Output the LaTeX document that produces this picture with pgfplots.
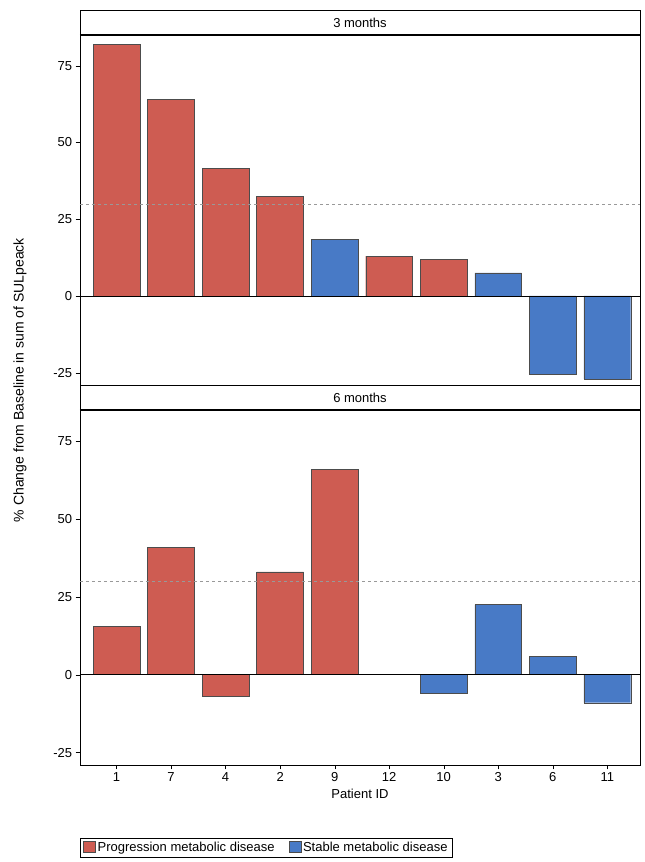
\documentclass[border=0pt]{standalone}
\usepackage{pgfplots}
\pgfplotsset{compat=1.18}
\usepackage{fontspec}
\setmainfont{Liberation Sans}
\definecolor{pr}{RGB}{206,92,82}
\definecolor{sb}{RGB}{72,122,198}
\begin{document}
\begin{tikzpicture}
\pgfplotsset{
  myax/.style={width=560pt, scale only axis, xmin=-0.67, xmax=9.6, ymin=-29, ymax=85,
    ytick={-25,0,25,50,75}, tick align=outside, tick style={black},
    ytick pos=left, font=\fontsize{13}{15}\selectfont,
    /pgf/number format/assume math mode=true,
    axis line style={black,line width=0.8pt},
    bar width=0.86, clip=false},
}
\begin{axis}[myax, name=bot, at={(0pt,0pt)}, anchor=south west, height=355pt,
   xtick={0,...,9}, xticklabels={1,7,4,2,9,12,10,3,6,11}, xtick pos=bottom,
   xlabel={Patient ID},
   legend style={at={(0,-0.205)}, anchor=north west, draw=black, legend columns=2,
     font=\fontsize{13}{15}\selectfont, /tikz/every even column/.append style={column sep=12pt}},
   legend image code/.code={\draw[#1] (0pt,-5pt) rectangle (12pt,6pt);}]
\addplot[ybar, fill=pr, draw=gray!60!black] coordinates {(0,15.5)(1,41)(2,-7)(3,33)(4,66)};
\addlegendentry{Progression metabolic disease}
\addplot[ybar, fill=sb, draw=gray!60!black] coordinates {(6,-6)(7,22.5)(8,6)(9,-9)};
\addlegendentry{Stable metabolic disease}
\draw[gray!80, dashed] (axis cs:-0.67,30) -- (axis cs:9.6,30);
\draw[black] (axis cs:-0.67,0) -- (axis cs:9.6,0);
\end{axis}
\begin{axis}[myax, name=top, at={(0pt,380pt)}, anchor=south west, height=350pt, xtick=\empty]
\addplot[ybar, fill=pr, draw=gray!60!black] coordinates {(0,82)(1,64)(2,41.5)(3,32.5)(5,13)(6,12)};
\addplot[ybar, fill=sb, draw=gray!60!black] coordinates {(4,18.5)(7,7.5)(8,-25.5)(9,-27)};
\draw[gray!80, dashed] (axis cs:-0.67,30) -- (axis cs:9.6,30);
\draw[black] (axis cs:-0.67,0) -- (axis cs:9.6,0);
\end{axis}
\draw[black, line width=0.6pt] (0pt,355pt) rectangle (560pt,380pt);
\draw[black, line width=1.6pt] (0pt,355pt) -- (560pt,355pt);
\node[font=\fontsize{13}{15}\selectfont] at (280pt,367.5pt) {6 months};
\draw[black, line width=0.6pt] (0pt,730pt) rectangle (560pt,755pt);
\draw[black, line width=1.6pt] (0pt,730pt) -- (560pt,730pt);
\node[font=\fontsize{13}{15}\selectfont] at (280pt,742.5pt) {3 months};
\node[rotate=90, font=\fontsize{14}{16}\selectfont] at (-60pt,385pt) {\% Change from Baseline in sum of SULpeack};
\path (-80pt,-97pt) (565pt,765pt);
\end{tikzpicture}
\end{document}
